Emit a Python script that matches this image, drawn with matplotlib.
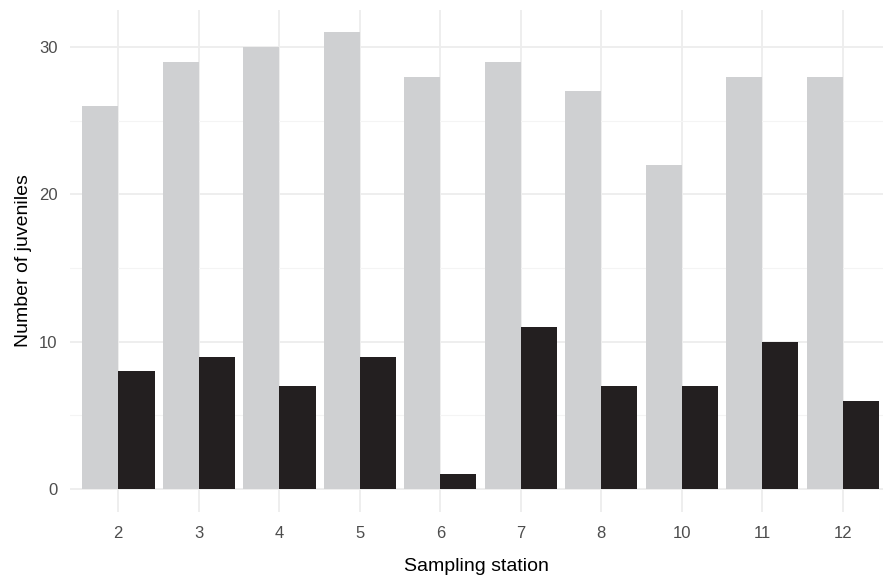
import matplotlib
matplotlib.use("Agg")
import matplotlib.pyplot as plt
import numpy as np

plt.rcParams['font.family'] = ['Liberation Sans', 'DejaVu Sans']

# data
stations = ['2', '3', '4', '5', '6', '7', '8', '10', '11', '12']
grey_counts = [26, 29, 30, 31, 28, 29, 27, 22, 28, 28]
black_counts = [8, 9, 7, 9, 1, 11, 7, 7, 10, 6]

fig = plt.figure(figsize=(8.83, 5.77), dpi=100)
W, H = 883, 577
ax = fig.add_axes([70 / W, (H - 512) / H, (883 - 70) / W, (512 - 9.5) / H])

x = np.arange(len(stations))
bw = 0.45
ax.bar(x - bw / 2, grey_counts, width=bw, color='#cfd0d2', zorder=2)
ax.bar(x + bw / 2, black_counts, width=bw, color='#231f20', zorder=2)

ax.set_xlim(-0.6, 9.5)
ax.set_ylim(-1.55, 32.55)
ax.set_xticks(x)
ax.set_xticklabels(stations)
ax.set_yticks([0, 10, 20, 30])
ax.set_yticks([5, 15, 25], minor=True)

ax.grid(which='major', color='#ededed', linewidth=1.3, zorder=0)
ax.grid(which='minor', axis='y', color='#f4f4f4', linewidth=0.8, zorder=0)
ax.set_axisbelow(True)
for s in ax.spines.values():
    s.set_visible(False)
ax.tick_params(which='both', length=0, colors='#4d4d4d', labelsize=12)
ax.tick_params(axis='x', pad=10)
ax.tick_params(axis='y', pad=9)

ax.set_xlabel('Sampling station', fontsize=14, color='black', labelpad=12)
ax.set_ylabel('Number of juveniles', fontsize=14, color='black', labelpad=5)

fig.savefig('out.png', dpi=100)
